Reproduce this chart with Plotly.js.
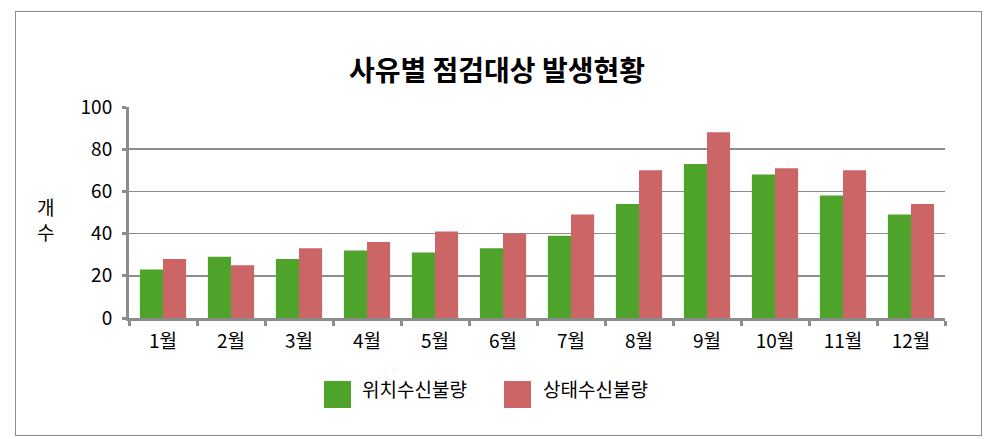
<!DOCTYPE html>
<html>
<head>
<meta charset="utf-8">
<script src="https://cdn.plot.ly/plotly-3.0.1.min.js"></script>
<style>
html,body{margin:0;padding:0;background:#fff;}
#wrap{position:relative;width:990px;height:439px;}
#chart{width:990px;height:439px;}
#frame{position:absolute;left:15px;top:11px;width:965px;height:423px;border:1px solid #8c8c8c;pointer-events:none;}
</style>
</head>
<body>
<div id="wrap"><div id="chart"></div><div id="frame"></div></div>
<script>
const categories = ["1월","2월","3월","4월","5월","6월","7월","8월","9월","10월","11월","12월"];
const seriesNames = ["위치수신불량","상태수신불량"];
const seriesColors = ["#4ea42a","#cc6666"];
const locationFail = [23,29,28,32,31,33,39,54,73,68,58,49];
const statusFail = [28,25,33,36,41,40,49,70,88,71,70,54];
const yTicks = [0,20,40,60,80,100];

const font = "'Noto Sans CJK KR', 'Noto Sans', sans-serif";
const L = 129, R = 945, T = 107, B = 318;
const px = x => (x - L) / (R - L);
const py = y => (B - y) / (B - T);

const traces = [
  {type:"bar", name:seriesNames[0], x:categories, y:locationFail, marker:{color:seriesColors[0]}},
  {type:"bar", name:seriesNames[1], x:categories, y:statusFail, marker:{color:seriesColors[1]}}
];

// manual legend (large square swatches like the reference)
const legendSwatchX = [324, 504];
const legendTextX = [360, 541];
const shapes = [], annotations = [];
seriesNames.forEach((n, i) => {
  shapes.push({type:"rect", xref:"paper", yref:"paper", x0:px(legendSwatchX[i]), x1:px(legendSwatchX[i] + 27), y0:py(381), y1:py(408), fillcolor:seriesColors[i], line:{width:0}});
  annotations.push({text:n, xref:"paper", yref:"paper", x:px(legendTextX[i]), y:py(388), xanchor:"left", yanchor:"middle", showarrow:false, font:{family:font, size:19, color:"#000"}});
});
annotations.push({text:"개<br>수", xref:"paper", yref:"paper", x:px(45), y:py(219), xanchor:"center", yanchor:"middle", showarrow:false, font:{family:font, size:19, color:"#000"}});

const layout = {
  width:990, height:439,
  margin:{l:L, r:990 - R, t:T, b:439 - B},
  paper_bgcolor:"#fff", plot_bgcolor:"#fff",
  font:{family:font, size:19, color:"#000"},
  title:{text:"<b>사유별 점검대상 발생현황</b>", font:{family:font, size:28, color:"#000"}, x:497/990, xref:"container", y:1 - 71.5/439, yref:"container", xanchor:"center", yanchor:"middle"},
  barmode:"group", bargap:0.32, bargroupgap:0,
  showlegend:false,
  xaxis:{type:"category", showline:true, linecolor:"#8c8c8c", linewidth:3, ticks:"outside", tickson:"boundaries", ticklen:5, tickwidth:3, tickcolor:"#8c8c8c", showgrid:false, tickfont:{family:font, size:19}, ticklabelstandoff:4},
  yaxis:{range:[0,100], tickvals:yTicks, showline:true, linecolor:"#8c8c8c", linewidth:3, ticks:"outside", ticklen:4, tickwidth:3, tickcolor:"#8c8c8c", showgrid:true, gridcolor:"#8c8c8c", gridwidth:1.5, zeroline:false, tickfont:{family:font, size:19}, ticklabelstandoff:6},
  shapes:shapes,
  annotations:annotations
};
Plotly.newPlot("chart", traces, layout, {displayModeBar:false, staticPlot:true});
</script>
</body>
</html>
